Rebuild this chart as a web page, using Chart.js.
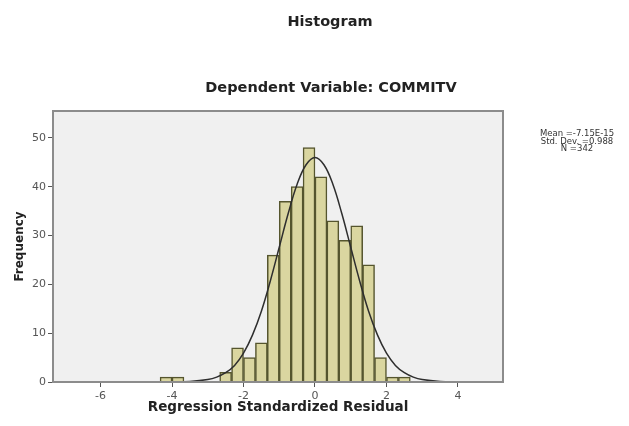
<!DOCTYPE html>
<html>
<head>
<meta charset="utf-8">
<title>Histogram</title>
<script src="https://cdn.jsdelivr.net/npm/chart.js@4/dist/chart.umd.min.js"></script>
<style>
  html, body { margin: 0; padding: 0; background: #fff; }
  canvas { display: block; }
</style>
</head>
<body>
<canvas id="histChart" width="629" height="426"></canvas>
<script>
/* ── Histogram: regression standardized residuals ─────────── */

// Bin centres (bin width 1/3) and counts
var binCenters = [-4.167, -3.833, -2.5, -2.167, -1.833, -1.5, -1.167, -0.833, -0.5, -0.167,
                  0.167, 0.5, 0.833, 1.167, 1.5, 1.833, 2.167, 2.5];
var counts     = [1, 1, 2, 7, 5, 8, 26, 37, 40, 48, 42, 33, 29, 32, 24, 5, 1, 1];

// Normal curve, points
var curveX = [-4.5, -4, -3.5, -3, -2.75, -2.5, -2.25, -2, -1.75, -1.5, -1.25, -1, -0.75, -0.5, -0.25, 0,
              0.25, 0.5, 0.75, 1, 1.25, 1.5, 1.75, 2, 2.25, 2.5, 2.75, 3, 3.5, 4];
var curveY = [0, 0, 0.1, 0.5, 1, 1.9, 3.4, 5.9, 9.6, 14.5, 20.7, 27.6, 34.5, 40.5, 44.5, 46,
              44.5, 40.5, 34.5, 27.6, 20.7, 14.5, 9.6, 5.9, 3.4, 1.9, 1, 0.5, 0.1, 0];

var xTicksStep = 2;
var yTicksStep = 10;

var chartTitle = 'Histogram';
var chartSubtitle = 'Dependent Variable: COMMITV';
var statsLines = ['Mean =-7.15E-15', 'Std. Dev. =0.988', 'N =342'];

var FONT = '"DejaVu Sans", sans-serif';

document.addEventListener('DOMContentLoaded', function () {
  var barPoints = binCenters.map(function (x, i) { return { x: x, y: counts[i] }; });
  var curvePoints = curveX.map(function (x, i) { return { x: x, y: curveY[i] }; });

  // plot background, frame and the free texts (titles, stats box)
  var decor = {
    id: 'decor',
    beforeDraw: function (chart) {
      var a = chart.chartArea, c = chart.ctx;
      c.save();
      c.fillStyle = '#f0f0f0';
      c.fillRect(a.left, a.top, a.right - a.left, a.bottom - a.top);
      c.restore();
    },
    afterDraw: function (chart) {
      var a = chart.chartArea, c = chart.ctx;
      c.save();
      c.strokeStyle = '#8c8c8c';
      c.lineWidth = 2;
      c.strokeRect(a.left, a.top, a.right - a.left, a.bottom - a.top);

      c.fillStyle = '#222';
      c.textAlign = 'center';
      c.textBaseline = 'middle';
      c.font = 'bold 14.5px ' + FONT;
      c.fillText(chartTitle, 330, 22);
      c.fillText(chartSubtitle, 331, 88);

      c.fillStyle = '#333';
      c.font = '8.5px ' + FONT;
      statsLines.forEach(function (t, i) {
        c.fillText(t, 577, 134 + i * 7.5);
      });
      c.restore();
    }
  };

  new Chart(document.getElementById('histChart'), {
    data: {
      datasets: [{
        type: 'line',
        data: curvePoints,
        borderColor: '#2e2e2e',
        borderWidth: 1.5,
        pointRadius: 0,
        tension: 0.4,
        fill: false,
        order: 0
      }, {
        type: 'bar',
        data: barPoints,
        backgroundColor: '#dad6a0',
        borderColor: '#55552e',
        borderWidth: 1.5,
        barPercentage: 1,
        categoryPercentage: 1,
        order: 1
      }]
    },
    options: {
      responsive: false,
      animation: false,
      layout: { padding: { top: 111, right: 126, left: 0, bottom: 0 } },
      plugins: {
        legend: { display: false },
        tooltip: { enabled: false }
      },
      scales: {
        x: {
          type: 'linear',
          min: -7.33,
          max: 5.26,
          offset: false,
          afterFit: function (scale) { scale.height = 44; },
          ticks: {
            stepSize: xTicksStep,
            includeBounds: false,
            color: '#555',
            padding: 3,
            font: { family: FONT, size: 11 }
          },
          grid: { offset: false, drawOnChartArea: false, tickLength: 5, color: '#555' },
          border: { display: false },
          title: {
            display: true,
            text: 'Regression Standardized Residual',
            color: '#222',
            font: { family: FONT, size: 13.5, weight: 'bold' },
            padding: { top: 0, bottom: 10 }
          }
        },
        y: {
          type: 'linear',
          min: 0,
          max: 55.5,
          afterFit: function (scale) { scale.width = 53; },
          ticks: {
            stepSize: yTicksStep,
            includeBounds: false,
            color: '#555',
            padding: 2,
            font: { family: FONT, size: 11 }
          },
          grid: { drawOnChartArea: false, tickLength: 5, color: '#555' },
          border: { display: false },
          title: {
            display: true,
            text: 'Frequency',
            color: '#222',
            font: { family: FONT, size: 12, weight: 'bold' },
            padding: { top: 13, bottom: 0 }
          }
        }
      }
    },
    plugins: [decor]
  });
});
</script>
</body>
</html>
